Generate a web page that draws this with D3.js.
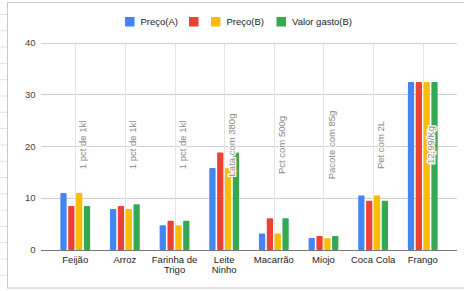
<!DOCTYPE html>
<html>
<head>
<meta charset="utf-8">
<script src="https://cdn.jsdelivr.net/npm/d3@7"></script>
<style>
  body { margin: 0; background: #fff; }
  svg { display: block; font-family: "Liberation Sans", Arial, sans-serif; }
</style>
</head>
<body>
<div id="chart"></div>
<script>
// chart data
var categories = ['Feijão', 'Arroz', 'Farinha de Trigo', 'Leite Ninho', 'Macarrão', 'Miojo', 'Coca Cola', 'Frango']
var seriesNames = ['Preço(A)', '', 'Preço(B)', 'Valor gasto(B)']
var precoA = [11.0, 7.9, 4.75, 15.8, 3.2, 2.3, 10.5, 32.4]
var serie2 = [8.5, 8.5, 5.65, 18.8, 6.1, 2.7, 9.5, 32.4]
var precoB = [11.0, 7.9, 4.75, 15.8, 3.2, 2.25, 10.5, 32.4]
var valorGastoB = [8.5, 8.8, 5.65, 18.8, 6.1, 2.7, 9.5, 32.4]
var annotations = ['1 pct de 1kl', '1 pct de 1kl', '1 pct de 1kl', 'Lata com 380g', 'Pct com 500g', 'Pacote com 85g', 'Pet com 2L', '12,99/Kg']
var yTicks = [0, 10, 20, 30, 40]

var colors = ['#4285F4', '#EA4335', '#FBBC04', '#34A853']
var series = [precoA, serie2, precoB, valorGastoB]

var width = 464, height = 291
var svg = d3.select('#chart')
    .append('svg')
        .attr('width', width)
        .attr('height', height)

// spreadsheet cells behind the chart on the left
for (var r = 0; r < 18; r++) {
    svg.append('line')
        .attr('x1', 0).attr('x2', 7)
        .attr('y1', 14.5 + r * 16.3).attr('y2', 14.5 + r * 16.3)
        .style('stroke', '#e2e2e2')
}

// chart border
svg.append('rect')
    .attr('x', 7.5).attr('y', 2.5)
    .attr('width', 470).attr('height', 285.5)
    .style('fill', '#fff')
    .style('stroke', '#c8c8c8')

var x = d3.scaleBand()
    .domain(categories)
    .range([41, 457])
    .paddingInner(0.4)
    .paddingOuter(0.39)

var xSub = d3.scaleBand()
    .domain(d3.range(series.length))
    .range([0, x.bandwidth()])
    .paddingInner(0.2)

var y = d3.scaleLinear()
    .domain([0, 40])
    .range([250, 42.5])

// gridlines
svg.append('g')
    .selectAll('line')
    .data(yTicks)
    .enter()
    .append('line')
    .attr('x1', 41).attr('x2', 457)
    .attr('y1', function(d) { return Math.round(y(d)) + 0.5 })
    .attr('y2', function(d) { return Math.round(y(d)) + 0.5 })
    .style('stroke', '#d0d0d0')

// y labels
svg.append('g')
    .selectAll('text')
    .data(yTicks)
    .enter()
    .append('text')
    .attr('x', 35.5)
    .attr('y', function(d) { return y(d) })
    .attr('dy', '0.35em')
    .attr('text-anchor', 'end')
    .style('font-size', '9.5px')
    .style('fill', '#444')
    .text(function(d) { return d })

// annotation lines (domain annotations)
svg.append('g')
    .selectAll('line')
    .data(categories)
    .enter()
    .append('line')
    .attr('x1', function(d) { return Math.round(x(d) + x.bandwidth() / 2) + 0.5 })
    .attr('x2', function(d) { return Math.round(x(d) + x.bandwidth() / 2) + 0.5 })
    .attr('y1', y(40))
    .attr('y2', y(0))
    .style('stroke', '#e4e4e4')

// bars
var groups = svg.append('g')
    .selectAll('g')
    .data(series)
    .enter()
    .append('g')
    .style('fill', function(d, i) { return colors[i] })

groups.each(function(values, si) {
    d3.select(this)
        .selectAll('rect')
        .data(values)
        .enter()
        .append('rect')
        .attr('x', function(d, i) { return x(categories[i]) + xSub(si) })
        .attr('y', function(d) { return y(d) })
        .attr('width', xSub.bandwidth())
        .attr('height', function(d) { return y(0) - y(d) })
        .attr('rx', 1)
})

// baseline
svg.append('line')
    .attr('x1', 41).attr('x2', 457)
    .attr('y1', 250.5).attr('y2', 250.5)
    .style('stroke', '#777')

// annotation text
svg.append('g')
    .selectAll('text')
    .data(annotations)
    .enter()
    .append('text')
    .attr('transform', function(d, i) {
        return 'translate(' + (x(categories[i]) + x.bandwidth() / 2 + 7.8) + ',145) rotate(-90)'
    })
    .attr('dy', '0.35em')
    .attr('text-anchor', 'middle')
    .style('font-size', '9.5px')
    .style('fill', '#888')
    .style('stroke', '#fff')
    .style('stroke-width', 2.5)
    .style('paint-order', 'stroke')
    .text(function(d) { return d })

// x labels, wrapped to the band
var xLabels = svg.append('g')
    .selectAll('text')
    .data(categories)
    .enter()
    .append('text')
    .attr('x', function(d) { return x(d) + x.bandwidth() / 2 })
    .attr('y', 262.5)
    .attr('text-anchor', 'middle')
    .style('font-size', '9.5px')
    .style('fill', '#222')

xLabels.each(function(d) {
    var el = d3.select(this)
    var words = d.split(' ')
    var cx = el.attr('x')
    var line = []
    var lineNo = 0
    var tspan = el.append('tspan').attr('x', cx)
    words.forEach(function(w) {
        line.push(w)
        tspan.text(line.join(' '))
        if (tspan.node().getComputedTextLength() > 48 && line.length > 1) {
            line.pop()
            tspan.text(line.join(' '))
            line = [w]
            lineNo++
            tspan = el.append('tspan').attr('x', cx).attr('dy', '10.6px').text(w)
        }
    })
})

// legend
var legendX = [125, 189, 211, 276.5]
var legend = svg.append('g')
    .selectAll('g')
    .data(seriesNames)
    .enter()
    .append('g')
    .attr('transform', function(d, i) { return 'translate(' + legendX[i] + ',17)' })

legend.append('rect')
    .attr('width', 9.5)
    .attr('height', 9.5)
    .style('fill', function(d, i) { return colors[i] })

legend.append('text')
    .attr('x', 15.5)
    .attr('y', 4.8)
    .attr('dy', '0.35em')
    .style('font-size', '9.5px')
    .style('fill', '#222')
    .text(function(d) { return d })
</script>
</body>
</html>
